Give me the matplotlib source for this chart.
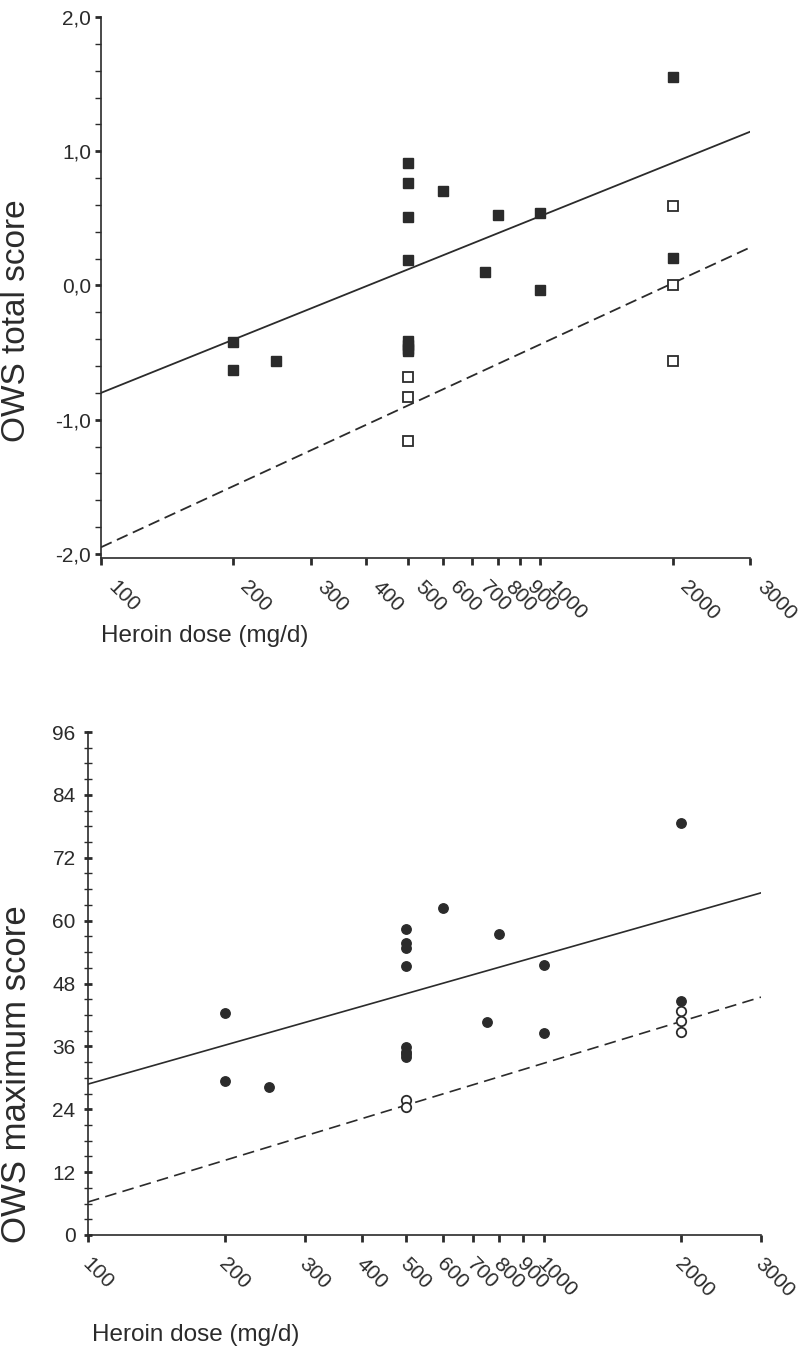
import matplotlib
matplotlib.use("Agg")
import matplotlib.pyplot as plt
import matplotlib.transforms as mtransforms
from matplotlib.ticker import FixedLocator, MultipleLocator, NullFormatter

plt.rcParams['font.family'] = ['Liberation Sans', 'DejaVu Sans']

# x tick values shared by both panels (heroin dose, log scale)
dose_ticks = [100, 200, 300, 400, 500, 600, 700, 800, 900, 1000, 2000, 3000]
dose_labels = ["100", "200", "300", "400", "500", "600", "700", "800", "900", "1000", "2000", "3000"]

# top panel: OWS total score
total_filled_dose = [200, 200, 250, 500, 500, 500, 500, 500, 500, 500, 500,
                     600, 750, 800, 1000, 1000, 2000, 2000]
total_filled = [-0.42, -0.63, -0.565, 0.915, 0.766, 0.513, 0.193, -0.41, -0.44, -0.47, -0.49,
                0.706, 0.097, 0.528, 0.543, -0.037, 1.554, 0.208]
total_open_dose = [500, 500, 500, 2000, 2000, 2000]
total_open = [-0.68, -0.83, -1.16, 0.595, 0.007, -0.565]
total_ticks = [-2, -1, 0, 1, 2]
total_tick_labels = ["-2,0", "-1,0", "0,0", "1,0", "2,0"]

# bottom panel: OWS maximum score
max_filled_dose = [200, 200, 250, 500, 500, 500, 500, 500, 500, 500, 500,
                   600, 750, 800, 1000, 1000, 2000, 2000]
max_filled = [42.4, 29.4, 28.3, 58.4, 55.7, 54.8, 51.4, 35.9, 34.9, 34.0, 34.5,
              62.4, 40.7, 57.5, 51.5, 38.6, 78.7, 44.7]
max_open_dose = [500, 500, 2000, 2000, 2000]
max_open = [25.8, 24.4, 42.8, 40.9, 38.8]
max_ticks = [0, 12, 24, 36, 48, 60, 72, 84, 96]

# regression lines read at dose 100 and 3000
fit_dose = [100, 3000]
total_fit_solid = [-0.80, 1.145]
total_fit_dashed = [-1.95, 0.283]
max_fit_solid = [28.8, 65.3]
max_fit_dashed = [6.3, 45.4]

ink = "#2b2b2b"
W, H = 801, 1352
fig = plt.figure(figsize=(W / 100, H / 100), dpi=100)
fig.patch.set_facecolor("white")


def setup_x(ax, dx):
    ax.set_xscale("log")
    ax.set_xlim(100, 3000)
    ax.xaxis.set_major_locator(FixedLocator(dose_ticks))
    ax.xaxis.set_minor_formatter(NullFormatter())
    ax.xaxis.set_minor_locator(FixedLocator([]))
    ax.set_xticklabels(dose_labels, rotation=-45, ha="left", va="center",
                       rotation_mode="anchor", fontsize=15, color=ink)
    ax.tick_params(axis="x", direction="out", length=5, width=2, pad=10, colors=ink)
    # nudge the slanted labels right and down like the original
    shift = mtransforms.ScaledTranslation(dx, -0.05, fig.dpi_scale_trans)
    for lab in ax.get_xticklabels():
        lab.set_transform(lab.get_transform() + shift)
    for s in ["top", "right"]:
        ax.spines[s].set_visible(False)
    for s in ["left", "bottom"]:
        ax.spines[s].set_color(ink)
        ax.spines[s].set_linewidth(1.2)
    ax.set_facecolor("white")


# ---- top panel
ax1 = fig.add_axes([101 / W, 1 - 558 / H, (750 - 101) / W, (558 - 17) / H])
setup_x(ax1, 0.10)
ax1.set_ylim(-2.03, 2.0)
ax1.set_yticks(total_ticks)
ax1.set_yticklabels(total_tick_labels, fontsize=15, color=ink)
ax1.yaxis.set_minor_locator(MultipleLocator(0.2))
ax1.tick_params(axis="y", which="major", direction="out", length=4, width=2, pad=3, colors=ink)
ax1.tick_params(axis="y", which="minor", direction="out", length=4, width=1, colors=ink)

ax1.plot(fit_dose, total_fit_solid, color=ink, lw=1.3)
ax1.plot(fit_dose, total_fit_dashed, color=ink, lw=1.3, linestyle=(0, (6.5, 3.2)))
ax1.plot(total_filled_dose, total_filled, "s", color=ink, markersize=6.5, clip_on=False)
ax1.plot(total_open_dose, total_open, "s", markerfacecolor="white", markeredgecolor=ink,
         markeredgewidth=1.3, markersize=6.5, clip_on=False)

fig.text(17 / W, 1 - 321 / H, "OWS total score", rotation=90, ha="center", va="center",
         fontsize=24, color=ink)
fig.text(101 / W, 1 - 636 / H, "Heroin dose (mg/d)", ha="left", va="center",
         fontsize=17.5, color=ink)

# ---- bottom panel
ax2 = fig.add_axes([88 / W, 1 - 1235 / H, (761 - 88) / W, (1235 - 732) / H])
setup_x(ax2, -0.03)
ax2.set_ylim(0, 96)
ax2.set_yticks(max_ticks)
ax2.set_yticklabels([str(t) for t in max_ticks], fontsize=15, color=ink)
ax2.yaxis.set_minor_locator(MultipleLocator(3))
ax2.tick_params(axis="y", which="major", direction="inout", length=6, width=2, pad=6, colors=ink)
ax2.tick_params(axis="y", which="minor", direction="inout", length=6, width=1, colors=ink)

ax2.plot(fit_dose, max_fit_solid, color=ink, lw=1.2)
ax2.plot(fit_dose, max_fit_dashed, color=ink, lw=1.2, linestyle=(0, (7, 3.8)))
ax2.plot(max_filled_dose, max_filled, "o", color=ink, markersize=6.8, clip_on=False)
ax2.plot(max_open_dose, max_open, "o", markerfacecolor="white", markeredgecolor=ink,
         markeredgewidth=1.3, markersize=6.8, clip_on=False)

fig.text(17 / W, 1 - 1074 / H, "OWS maximum score", rotation=90, ha="center", va="center",
         fontsize=25, color=ink)
fig.text(92 / W, 1 - 1335 / H, "Heroin dose (mg/d)", ha="left", va="center",
         fontsize=17.5, color=ink)

fig.savefig("out.png", dpi=100, facecolor="white")
